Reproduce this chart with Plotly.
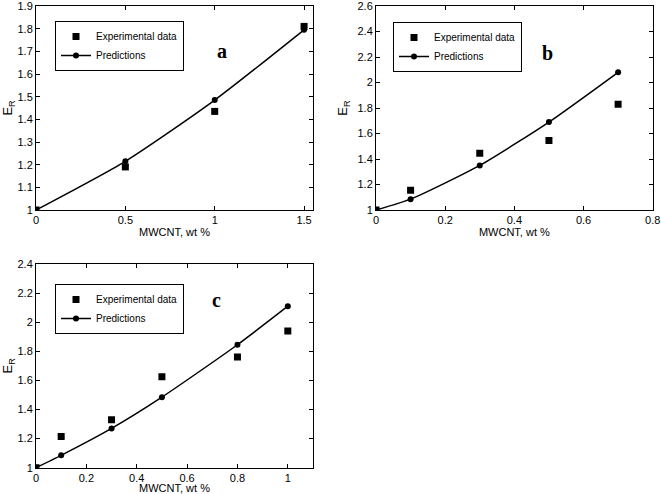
import plotly.graph_objects as go

# ---------------------------------------------------------------
# Data (E_R vs MWCNT wt %)
# ---------------------------------------------------------------
a_x = [0, 0.5, 1.0, 1.5]
a_exp = [1.0, 1.19, 1.435, 1.81]
a_pred = [1.0, 1.215, 1.485, 1.795]

b_x = [0, 0.1, 0.3, 0.5, 0.7]
b_exp = [1.0, 1.155, 1.445, 1.545, 1.83]
b_pred = [1.0, 1.085, 1.35, 1.69, 2.08]

c_x = [0, 0.1, 0.3, 0.5, 0.8, 1.0]
c_exp = [1.0, 1.215, 1.33, 1.625, 1.76, 1.94]
c_pred = [1.0, 1.085, 1.27, 1.485, 1.845, 2.11]

FONT = dict(family='Liberation Sans, Arial, sans-serif', size=11, color='black')
W, H = 661, 494
EPS = 1e-6  # keeps the last tick (e.g. 1.9, 2.6) inside the range


def px_x(p):
    return p / W


def px_y(p):
    return 1 - p / H


panels = [
    dict(x=a_x, e=a_exp, p=a_pred, ax='', dx=(36, 313), dy=(6, 210),
         xr=[0, 1.55], yr=[1, 1.9], xd=0.5, yd=0.1, letter='a',
         leg=(55, 21), lab=(215, 38)),
    dict(x=b_x, e=b_exp, p=b_pred, ax='2', dx=(376, 652.7), dy=(6, 210),
         xr=[0, 0.8], yr=[1, 2.6], xd=0.2, yd=0.2, letter='b',
         leg=(393, 22), lab=(555, 40)),
    dict(x=c_x, e=c_exp, p=c_pred, ax='3', dx=(36, 313), dy=(264, 467.7),
         xr=[0, 1.1], yr=[1, 2.4], xd=0.2, yd=0.2, letter='c',
         leg=(55, 284), lab=(210, 300)),
]

fig = go.Figure()
layout = {}
annotations = []

for i, pn in enumerate(panels):
    legname = 'legend' if i == 0 else f'legend{i + 1}'
    xa = 'x' + pn['ax']
    ya = 'y' + pn['ax']
    fig.add_trace(go.Scatter(
        x=pn['x'], y=pn['e'], mode='markers', name='Experimental data',
        marker=dict(symbol='square', size=7, color='black'),
        xaxis=xa, yaxis=ya, legend=legname,
    ))
    fig.add_trace(go.Scatter(
        x=pn['x'], y=pn['p'], mode='lines+markers', name='Predictions',
        line=dict(color='black', width=1.5, shape='spline', smoothing=0.6),
        marker=dict(symbol='circle', size=6, color='black'),
        xaxis=xa, yaxis=ya, legend=legname,
    ))

    axis_common = dict(
        showline=True, linecolor='black', linewidth=1, mirror='ticks',
        ticks='inside', ticklen=4, tickcolor='black', showgrid=False,
        zeroline=False, tickfont=FONT, automargin=False,
        ticklabeloverflow='allow',
    )
    layout['xaxis' + pn['ax']] = dict(
        axis_common,
        domain=[px_x(pn['dx'][0]), px_x(pn['dx'][1])],
        range=[pn['xr'][0], pn['xr'][1] + EPS], dtick=pn['xd'], tick0=0,
        anchor=ya,
        title=dict(text='MWCNT, wt %', font=FONT, standoff=3),
    )
    layout['yaxis' + pn['ax']] = dict(
        axis_common,
        domain=[px_y(pn['dy'][1]), px_y(pn['dy'][0])],
        range=[pn['yr'][0], pn['yr'][1] + EPS], dtick=pn['yd'], tick0=1,
        anchor=xa,
        title=dict(text='E<sub>R</sub>', font=dict(FONT, size=13), standoff=6),
    )
    layout[legname] = dict(
        x=px_x(pn['leg'][0]), y=px_y(pn['leg'][1]),
        xanchor='left', yanchor='top',
        bgcolor='white', bordercolor='black', borderwidth=1,
        font=dict(FONT, size=10), tracegroupgap=0, itemwidth=30,
    )
    annotations.append(dict(
        x=px_x(pn['lab'][0]), y=px_y(pn['lab'][1]),
        xref='paper', yref='paper', text=f"<b>{pn['letter']}</b>",
        showarrow=False,
        font=dict(family='Liberation Serif, Times New Roman, serif', size=20, color='black'),
    ))

fig.update_layout(
    **layout,
    annotations=annotations,
    width=W, height=H,
    margin=dict(l=0, r=0, t=0, b=0),
    plot_bgcolor='white', paper_bgcolor='white',
    font=FONT,
)

# page body has a default 8px margin; remove it so the figure sits at 0,0
fig.write_html("out.html", config={'displayModeBar': False},
               post_script="document.body.style.margin='0';")
